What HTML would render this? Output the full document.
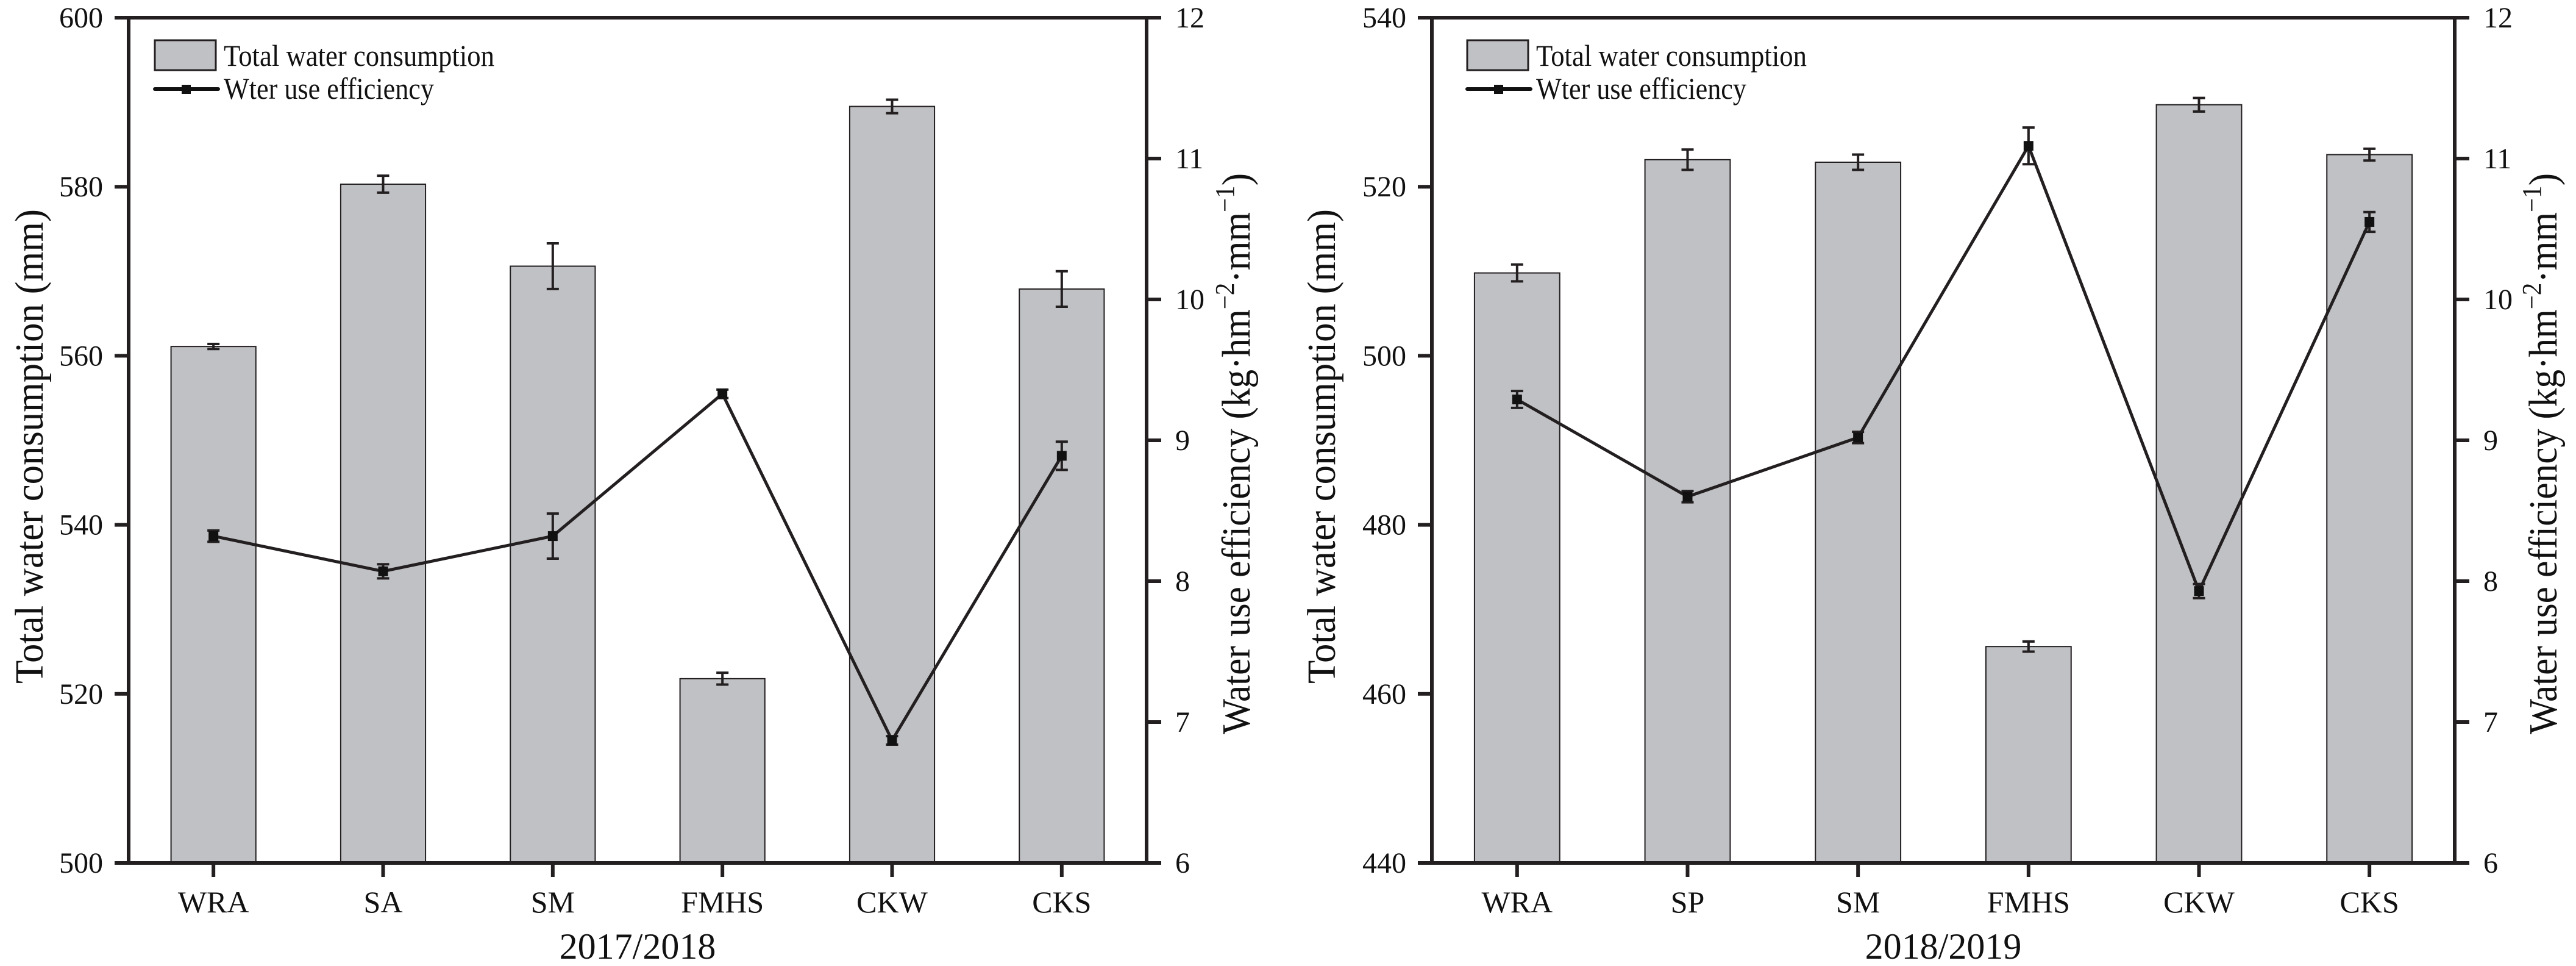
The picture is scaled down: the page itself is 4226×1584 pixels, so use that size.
<!DOCTYPE html>
<html><head><meta charset="utf-8"><style>
html,body{margin:0;padding:0;background:#fff;}
svg{display:block;font-family:"Liberation Serif",serif;}
</style></head><body>
<svg id="chart" width="4226" height="1584" viewBox="0 0 4226 1584" xmlns="http://www.w3.org/2000/svg"></svg>
<script>
const categoriesA = ["WRA","SA","SM","FMHS","CKW","CKS"];
const waterA = [561.1,580.3,570.6,521.8,589.5,567.9];
const waterErrA = [0.3,1.0,2.7,0.7,0.8,2.1];
const wueA = [8.32,8.07,8.32,9.33,6.87,8.89];
const wueErrA = [0.04,0.05,0.16,0.03,0.03,0.1];
const leftTicksA = [500,520,540,560,580,600];

const categoriesB = ["WRA","SP","SM","FMHS","CKW","CKS"];
const waterB = [509.8,523.2,522.9,465.6,529.7,523.8];
const waterErrB = [1.0,1.2,0.9,0.6,0.8,0.7];
const wueB = [9.29,8.60,9.02,11.09,7.93,10.55];
const wueErrB = [0.06,0.04,0.04,0.13,0.05,0.07];
const leftTicksB = [440,460,480,500,520,540];

const rightTicks = [6,7,8,9,10,11,12];

const NS = "http://www.w3.org/2000/svg";
const svg = document.getElementById("chart");
function mk(tag, attrs, parent, text){
  const e = document.createElementNS(NS, tag);
  for (const k in attrs) e.setAttribute(k, attrs[k]);
  if (text !== undefined) e.textContent = text;
  (parent||svg).appendChild(e);
  return e;
}

function panel(opt){
  const {x0,x1,cats,water,werr,wue,uerr,lticks,year,key,legX,ltitleX,rtitleX} = opt;
  const y0 = 29, y1 = 1415;
  const g = mk("g",{});
  
  
  const lmin = lticks[0], lmax = lticks[lticks.length-1];
  const rmin = rightTicks[0], rmax = rightTicks[rightTicks.length-1];
  const yL = v => y1 - (v-lmin)/(lmax-lmin)*(y1-y0);
  const yR = v => y1 - (v-rmin)/(rmax-rmin)*(y1-y0);
  const step = (x1-x0)/cats.length;
  const xC = i => x0 + step*(i+0.5);
  const bw = step*0.5;

  cats.forEach((c,i)=>{
    const b = mk("rect",{x:xC(i)-bw/2,y:yL(water[i]),width:bw,height:y1-yL(water[i]),fill:"#c0c1c4",stroke:"#231f20","stroke-width":2},g);
    
    
    const eh = mk("path",{d:`M${xC(i)} ${yL(water[i]+werr[i])}V${yL(water[i]-werr[i])}M${xC(i)-10} ${yL(water[i]+werr[i])}h20M${xC(i)-10} ${yL(water[i]-werr[i])}h20`,stroke:"#231f20","stroke-width":4,fill:"none"},g);
    
    
  });
  const pts = wue.map((v,i)=>`${xC(i)},${yR(v)}`).join(" ");
  const ln = mk("polyline",{points:pts,fill:"none",stroke:"#231f20","stroke-width":5},g);
  
  
  wue.forEach((v,i)=>{
    const e = mk("path",{d:`M${xC(i)} ${yR(v+uerr[i])}V${yR(v-uerr[i])}M${xC(i)-10} ${yR(v+uerr[i])}h20M${xC(i)-10} ${yR(v-uerr[i])}h20`,stroke:"#231f20","stroke-width":4,fill:"none"},g);
    
    
    const m = mk("rect",{x:xC(i)-8,y:yR(v)-8,width:16,height:16,fill:"#111"},g);
    
    
  });
  const ax = mk("path",{d:`M${x0-23} ${y0}H${x1+24}M${x0} ${y0}V${y1}M${x1} ${y0}V${y1}M${x0-3} ${y1}H${x1+24}`,stroke:"#231f20","stroke-width":6,fill:"none"},g);
  
  
  lticks.forEach(t=>{
    mk("line",{x1:x0-23,x2:x0,y1:yL(t),y2:yL(t),stroke:"#231f20","stroke-width":6},g);
    const tl = mk("text",{x:x0-42,y:yL(t)+16,"text-anchor":"end","font-size":48,fill:"#111"},g,String(t));
    
    
  });
  rightTicks.forEach(t=>{
    mk("line",{x1:x1,x2:x1+24,y1:yR(t),y2:yR(t),stroke:"#231f20","stroke-width":6},g);
    const tl = mk("text",{x:x1+47,y:yR(t)+16,"text-anchor":"start","font-size":48,fill:"#111"},g,String(t));
    
    
  });
  cats.forEach((c,i)=>{
    mk("line",{x1:xC(i),x2:xC(i),y1:y1,y2:y1+23,stroke:"#231f20","stroke-width":6},g);
    const tl = mk("text",{x:xC(i),y:1496,"text-anchor":"middle","font-size":50,fill:"#111"},g,c);
    
    
  });
  const xt = mk("text",{x:(x0+x1)/2,y:1572,"text-anchor":"middle","font-size":60,fill:"#111"},g,year);
  
  
  const lt = mk("text",{x:0,y:0,"text-anchor":"middle","font-size":66,fill:"#111",textLength:778,lengthAdjust:"spacingAndGlyphs",transform:`translate(${ltitleX},732) rotate(-90)`},g,"Total water consumption (mm)");
  
  
  const rt = mk("text",{x:0,y:0,"text-anchor":"middle","font-size":66,fill:"#111",textLength:920,lengthAdjust:"spacingAndGlyphs",transform:`translate(${rtitleX},744) rotate(-90)`},g);
  
  
  rt.appendChild(document.createTextNode("Water use efficiency (kg·hm"));
  mk("tspan",{dy:-26,"font-size":44},rt,"−2");
  mk("tspan",{dy:26},rt,"·mm");
  mk("tspan",{dy:-26,"font-size":44},rt,"−1");
  mk("tspan",{dy:26},rt,")");
  const lg = mk("g",{},g);
  
  
  const lb = mk("rect",{x:legX,y:66,width:100,height:49,fill:"#c0c1c4",stroke:"#231f20","stroke-width":3},lg);
  
  
  mk("text",{x:legX+113,y:108,"font-size":50,fill:"#111",textLength:444,lengthAdjust:"spacingAndGlyphs"},lg,"Total water consumption");
  mk("line",{x1:legX,x2:legX+104,y1:146,y2:146,stroke:"#111","stroke-width":6,"stroke-linecap":"round"},lg);
  mk("rect",{x:legX+44,y:139,width:15,height:15,fill:"#111"},lg);
  mk("text",{x:legX+113,y:162,"font-size":50,fill:"#111",textLength:345,lengthAdjust:"spacingAndGlyphs"},lg,"Wter use efficiency");
}

panel({x0:211,x1:1881,cats:categoriesA,water:waterA,werr:waterErrA,wue:wueA,uerr:wueErrA,lticks:leftTicksA,year:"2017/2018",key:"2017-2018",legX:254,ltitleX:70,rtitleX:2050});
panel({x0:2349,x1:4027,cats:categoriesB,water:waterB,werr:waterErrB,wue:wueB,uerr:wueErrB,lticks:leftTicksB,year:"2018/2019",key:"2018-2019",legX:2407,ltitleX:2190,rtitleX:4194});
</script>
</body></html>
